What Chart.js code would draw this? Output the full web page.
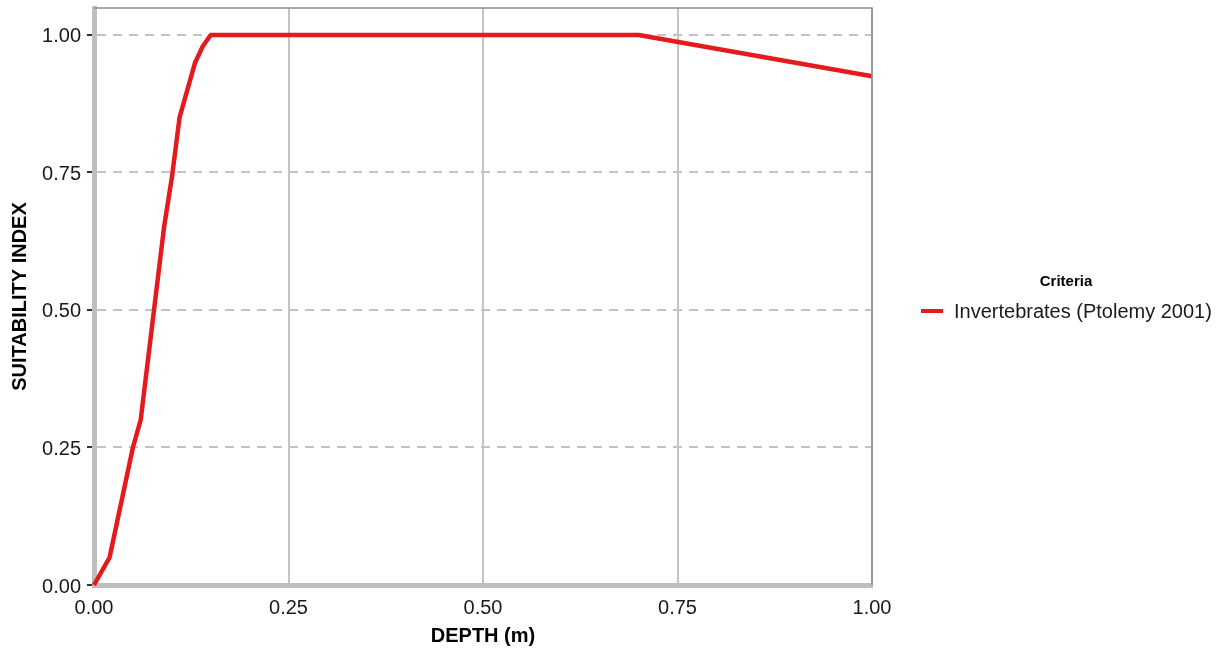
<!DOCTYPE html>
<html>
<head>
<meta charset="utf-8">
<script src="https://cdn.jsdelivr.net/npm/chart.js@4/dist/chart.umd.min.js"></script>
<style>
  html, body { margin:0; padding:0; background:#fff; }
  #wrap { position:relative; width:1225px; height:656px; }
  canvas { position:absolute; left:0; top:0; }
  .lg-title { position:absolute; left:966px; width:200px; top:271px; text-align:center;
    font:bold 15px 'Liberation Sans', Arial, sans-serif; color:#000; line-height:20px; }
  .lg-key { position:absolute; left:921px; top:309px; width:22px; height:4px; background:#e41a1c; }
  .lg-text { position:absolute; left:954px; top:299px; font:20px 'Liberation Sans', Arial, sans-serif;
    color:#1a1a1a; line-height:24px; white-space:nowrap; }
</style>
</head>
<body>
<div id="wrap">
  <canvas id="c" width="1225" height="656"></canvas>
  <div class="lg-title" id="lgtitle"></div>
  <div class="lg-key"></div>
  <div class="lg-text" id="lgtext"></div>
</div>
<script>
// ---- data ----
const seriesName = 'Invertebrates (Ptolemy 2001)';
const depth = [0, 0.02, 0.05, 0.06, 0.09, 0.10, 0.11, 0.13, 0.14, 0.15, 0.70, 1.00];
const suitability = [0, 0.05, 0.25, 0.30, 0.65, 0.74, 0.85, 0.95, 0.98, 1.00, 1.00, 0.925];
const xTicks = [0, 0.25, 0.5, 0.75, 1.0];
const yTicks = [0, 0.25, 0.5, 0.75, 1.0];
const xTitle = 'DEPTH (m)';
const yTitle = 'SUITABILITY INDEX';
const legendTitle = 'Criteria';

document.getElementById('lgtext').textContent = seriesName;
document.getElementById('lgtitle').textContent = legendTitle;

const points = depth.map((d, i) => ({ x: d, y: suitability[i] }));
const FONT = "'Liberation Sans', Arial, sans-serif";

const panelBorder = {
  id: 'panelBorder',
  afterDraw(chart) {
    const { ctx, chartArea: a } = chart;
    ctx.save();
    ctx.strokeStyle = '#8c8c8c';
    ctx.lineWidth = 1.5;
    ctx.beginPath();
    ctx.moveTo(a.left, a.top);
    ctx.lineTo(a.right, a.top);
    ctx.lineTo(a.right, a.bottom);
    ctx.stroke();
    ctx.restore();
  }
};

new Chart(document.getElementById('c'), {
  type: 'scatter',
  data: {
    datasets: [{
      label: seriesName,
      data: points,
      showLine: true,
      borderColor: '#e41a1c',
      backgroundColor: '#e41a1c',
      borderWidth: 4.5,
      pointRadius: 0,
      tension: 0,
      clip: false,
      borderJoinStyle: 'round'
    }]
  },
  options: {
    responsive: false,
    animation: false,
    layout: { padding: { left: 0, top: 8, right: 353, bottom: 0 } },
    plugins: { legend: { display: false }, tooltip: { enabled: false } },
    scales: {
      x: {
        type: 'linear',
        min: 0, max: 1,
        afterBuildTicks: s => { s.ticks = xTicks.map(v => ({ value: v })); },
        afterFit: s => { s.height = 71; s.paddingLeft = 0; s.paddingRight = 0; },
        grid: { color: '#c4c4c4', lineWidth: 2, drawTicks: false },
        border: { display: true, color: '#bebebe', width: 5 },
        ticks: {
          padding: 11,
          color: '#1a1a1a',
          font: { family: FONT, size: 20 },
          maxRotation: 0,
          callback: v => Number(v).toFixed(2)
        },
        title: {
          display: true, text: xTitle, color: '#000',
          font: { family: FONT, size: 20, weight: 'bold' },
          padding: { top: 0, bottom: 8 }
        }
      },
      y: {
        type: 'linear',
        min: 0, max: 1.049,
        afterBuildTicks: s => { s.ticks = yTicks.map(v => ({ value: v })); },
        afterFit: s => { s.width = 94; s.paddingTop = 0; s.paddingBottom = 0; },
        grid: { color: '#c4c4c4', lineWidth: 2, drawTicks: true, tickLength: 7, tickColor: '#333', tickWidth: 2 },
        border: { display: true, color: '#bebebe', width: 5, dash: [9, 7] },
        ticks: {
          padding: 6,
          labelOffset: 2,
          color: '#1a1a1a',
          font: { family: FONT, size: 20 },
          callback: v => Number(v).toFixed(2)
        },
        title: {
          display: true, text: yTitle, color: '#000',
          font: { family: FONT, size: 20, weight: 'bold' },
          padding: { top: 8, bottom: 0 }
        }
      }
    }
  },
  plugins: [panelBorder]
});
</script>
</body>
</html>
